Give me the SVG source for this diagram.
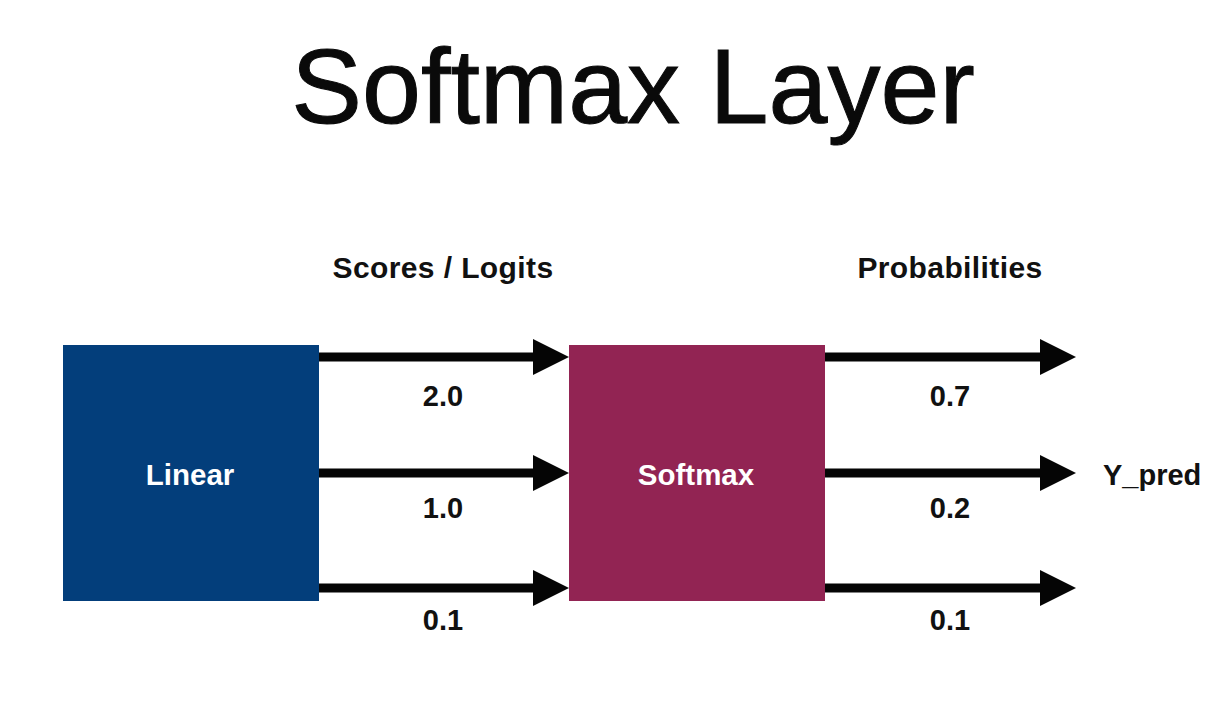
<svg xmlns="http://www.w3.org/2000/svg" width="1225" height="717" viewBox="0 0 1225 717">
  <style>
    .lbl { font-family: "Liberation Sans", Arial, sans-serif; font-weight: bold; font-size: 29px; fill: #111; }
    .hdr { font-family: "Liberation Sans", Arial, sans-serif; font-weight: bold; font-size: 30px; letter-spacing: 0.4px; fill: #111; }
    .box-text { font-family: "Liberation Sans", Arial, sans-serif; font-weight: bold; font-size: 29.5px; fill: #ffffff; }
    .title { font-family: "Liberation Sans", Arial, sans-serif; font-size: 106px; fill: #0a0a0a; stroke: #0a0a0a; stroke-width: 1; }
    .arrow { stroke: #050505; stroke-width: 9; fill: none; marker-end: url(#head); }
  </style>
  <defs>
    <marker id="head" markerUnits="userSpaceOnUse" markerWidth="36" markerHeight="36" viewBox="0 0 36 36" refX="0" refY="18" orient="auto">
      <path d="M0,0 L36,18 L0,36 Z" fill="#050505"/>
    </marker>
  </defs>
  <rect width="1225" height="717" fill="#ffffff"/>
  <text class="title" x="633" y="123" text-anchor="middle">Softmax Layer</text>

  <g id="label-scores"><text class="hdr" x="443" y="278" text-anchor="middle">Scores / Logits</text></g>
  <g id="label-probs"><text class="hdr" x="950" y="278" text-anchor="middle">Probabilities</text></g>

  <g id="linear">
    <rect x="63" y="345" width="256" height="256" fill="#033e7b"/>
    <text class="box-text" x="190" y="485" text-anchor="middle">Linear</text>
  </g>
  <g id="softmax">
    <rect x="569" y="345" width="256" height="256" fill="#922453"/>
    <text class="box-text" x="696" y="485" text-anchor="middle">Softmax</text>
  </g>

  <g id="connectors">
    <line class="arrow" x1="319" y1="357" x2="533" y2="357"/>
    <line class="arrow" x1="319" y1="473" x2="533" y2="473"/>
    <line class="arrow" x1="319" y1="588" x2="533" y2="588"/>
    <line class="arrow" x1="825" y1="357" x2="1040" y2="357"/>
    <line class="arrow" x1="825" y1="473" x2="1040" y2="473"/>
    <line class="arrow" x1="825" y1="588" x2="1040" y2="588"/>
  </g>

  <g id="values-left">
    <text class="lbl" x="443" y="406" text-anchor="middle">2.0</text>
    <text class="lbl" x="443" y="518" text-anchor="middle">1.0</text>
    <text class="lbl" x="443" y="630" text-anchor="middle">0.1</text>
  </g>
  <g id="values-right">
    <text class="lbl" x="950" y="406" text-anchor="middle">0.7</text>
    <text class="lbl" x="950" y="518" text-anchor="middle">0.2</text>
    <text class="lbl" x="950" y="630" text-anchor="middle">0.1</text>
  </g>
  <g id="output"><text class="lbl" x="1103" y="485">Y_pred</text></g>
</svg>
